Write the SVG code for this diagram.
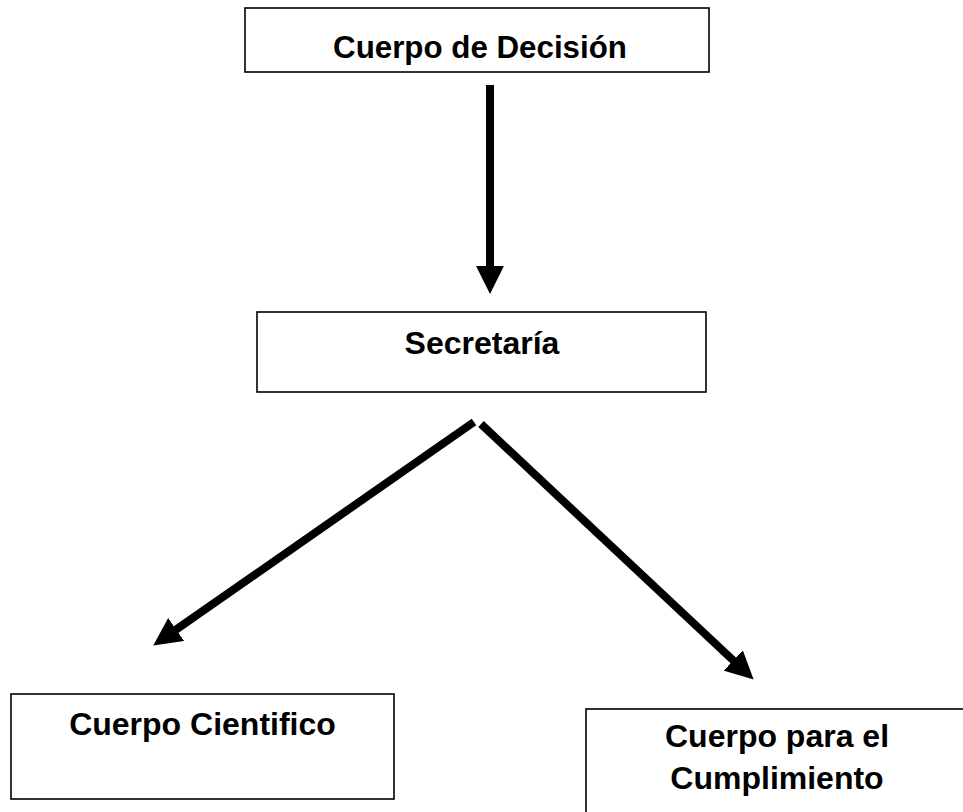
<svg xmlns="http://www.w3.org/2000/svg" width="963" height="812" viewBox="0 0 963 812">
  <style>
    .box { fill: #ffffff; stroke: #000000; stroke-width: 1.6; }
    .lbl { font-family: "Liberation Sans", Arial, sans-serif; font-weight: bold; font-size: 32px; fill: #000000; text-anchor: middle; }
    .conn { stroke: #000000; stroke-width: 8; fill: none; marker-end: url(#head); }
  </style>
  <defs>
    <marker id="head" markerUnits="userSpaceOnUse" markerWidth="28" markerHeight="28" refX="1" refY="13" orient="auto" viewBox="0 0 26 26">
      <polygon points="0,0 26,13 0,26" fill="#000000"/>
    </marker>
  </defs>
  <rect width="963" height="812" fill="#ffffff"/>
  <g id="connectors">
    <line class="conn" x1="490" y1="85" x2="490" y2="267"/>
    <line class="conn" x1="474" y1="422" x2="175.3" y2="630.1"/>
    <line class="conn" x1="481" y1="424" x2="734" y2="661.2"/>
  </g>
  <g id="node-decision">
    <rect class="box" x="245" y="8" width="464" height="64"/>
    <text class="lbl" x="480" y="58" style="font-size:31.3px">Cuerpo de Decisión</text>
  </g>
  <g id="node-secretaria">
    <rect class="box" x="257" y="312" width="449" height="80"/>
    <text class="lbl" x="482" y="354">Secretaría</text>
  </g>
  <g id="node-cientifico">
    <rect class="box" x="11" y="694" width="383" height="105"/>
    <text class="lbl" x="202.5" y="735">Cuerpo Cientifico</text>
  </g>
  <g id="node-cumplimiento">
    <rect class="box" x="586" y="709" width="400" height="140"/>
    <text class="lbl" x="777" y="747">Cuerpo para el</text>
    <text class="lbl" x="777" y="789">Cumplimiento</text>
  </g>
</svg>
